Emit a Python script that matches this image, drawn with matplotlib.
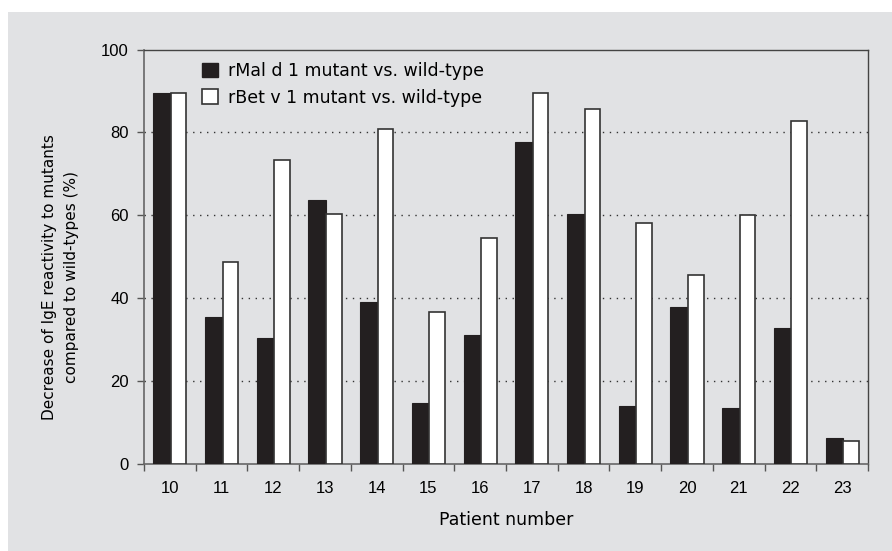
import matplotlib
matplotlib.use("Agg")
import matplotlib.pyplot as plt
from matplotlib.patches import Rectangle, Patch
import numpy as np

patients = ["10", "11", "12", "13", "14", "15", "16", "17", "18", "19", "20", "21", "22", "23"]
mal_d1 = [89.4, 35.5, 30.2, 63.7, 39.1, 14.7, 31.0, 77.6, 60.3, 14.0, 37.9, 13.3, 32.8, 6.1]
bet_v1 = [89.4, 48.6, 73.2, 60.3, 80.9, 36.5, 54.5, 89.4, 85.7, 58.0, 45.5, 60.1, 82.8, 5.4]
yticks = [0, 20, 40, 60, 80, 100]
legend_labels = ["rMal d 1 mutant vs. wild-type", "rBet v 1 mutant vs. wild-type"]

TICKFONT = ['Liberation Sans', 'DejaVu Sans']
TEXTFONT = ['DejaVu Sans']
plt.rcParams['font.family'] = TICKFONT
BG = '#e1e2e4'
DARK = '#231f20'

W, H = 892, 551
fig = plt.figure(figsize=(W / 100, H / 100), dpi=100)
fig.patch.set_facecolor('white')
fig.patches.append(Rectangle((8 / W, 0), 1 - 8 / W, 1 - 12 / H, transform=fig.transFigure,
                             facecolor=BG, edgecolor='none', zorder=-10))

ax = fig.add_axes([144 / W, 1 - 463.5 / H, (868 - 144) / W, (463.5 - 49.5) / H])
ax.set_facecolor(BG)

x = np.arange(len(patients))
ax.bar(x - 0.32, mal_d1, width=0.34, align='edge', color=DARK, edgecolor=DARK,
       linewidth=0.8, zorder=3, label=legend_labels[0])
ax.bar(x + 0.02, bet_v1, width=0.30, align='edge', color='white', edgecolor='#333333',
       linewidth=1.2, zorder=3, label=legend_labels[1])

ax.set_xlim(-0.5, len(patients) - 0.5)
ax.set_ylim(0, 100)
ax.set_yticks(yticks)
ax.set_yticklabels([str(v) for v in yticks], fontsize=12)

for v in yticks[1:-1]:
    ax.axhline(v, color='#333333', linestyle=(0, (1, 4)), linewidth=1.0, zorder=1)

ax.set_xticks(np.arange(len(patients) + 1) - 0.5)
ax.set_xticklabels([])
ax.set_xticks(x, minor=True)
ax.set_xticklabels(patients, minor=True, fontsize=12)
ax.tick_params(axis='x', which='major', direction='out', length=5, width=1, color='#555555')
ax.tick_params(axis='x', which='minor', length=0, pad=12.5)
ax.tick_params(axis='y', direction='out', length=5, width=1, color='#555555', pad=6)

for s in ['left', 'bottom']:
    ax.spines[s].set_color('#666666')
    ax.spines[s].set_linewidth(1.2)
for s in ['top', 'right']:
    ax.spines[s].set_color('#444444')
    ax.spines[s].set_linewidth(1.0)

ax.set_xlabel("Patient number", fontsize=12.5, labelpad=11, family=TEXTFONT)
fig.text(60.5 / W, 1 - 277 / H, "Decrease of IgE reactivity to mutants\ncompared to wild-types (%)",
         rotation=90, ha='center', va='center', multialignment='center', fontsize=11,
         linespacing=1.65, family=TEXTFONT)

handles = [Patch(facecolor=DARK, edgecolor=DARK), Patch(facecolor='white', edgecolor='#333333', linewidth=1.2)]
ax.legend(handles, legend_labels, loc='upper left', bbox_to_anchor=((202 - 144) / 724, 1 - (62 - 49.5) / 414),
          frameon=False, prop={'family': TEXTFONT, 'size': 12.5}, handlelength=0.92, handleheight=0.92,
          handletextpad=0.6, labelspacing=0.5, borderpad=0, borderaxespad=0)

fig.savefig("out.png", dpi=100, facecolor=fig.get_facecolor())
